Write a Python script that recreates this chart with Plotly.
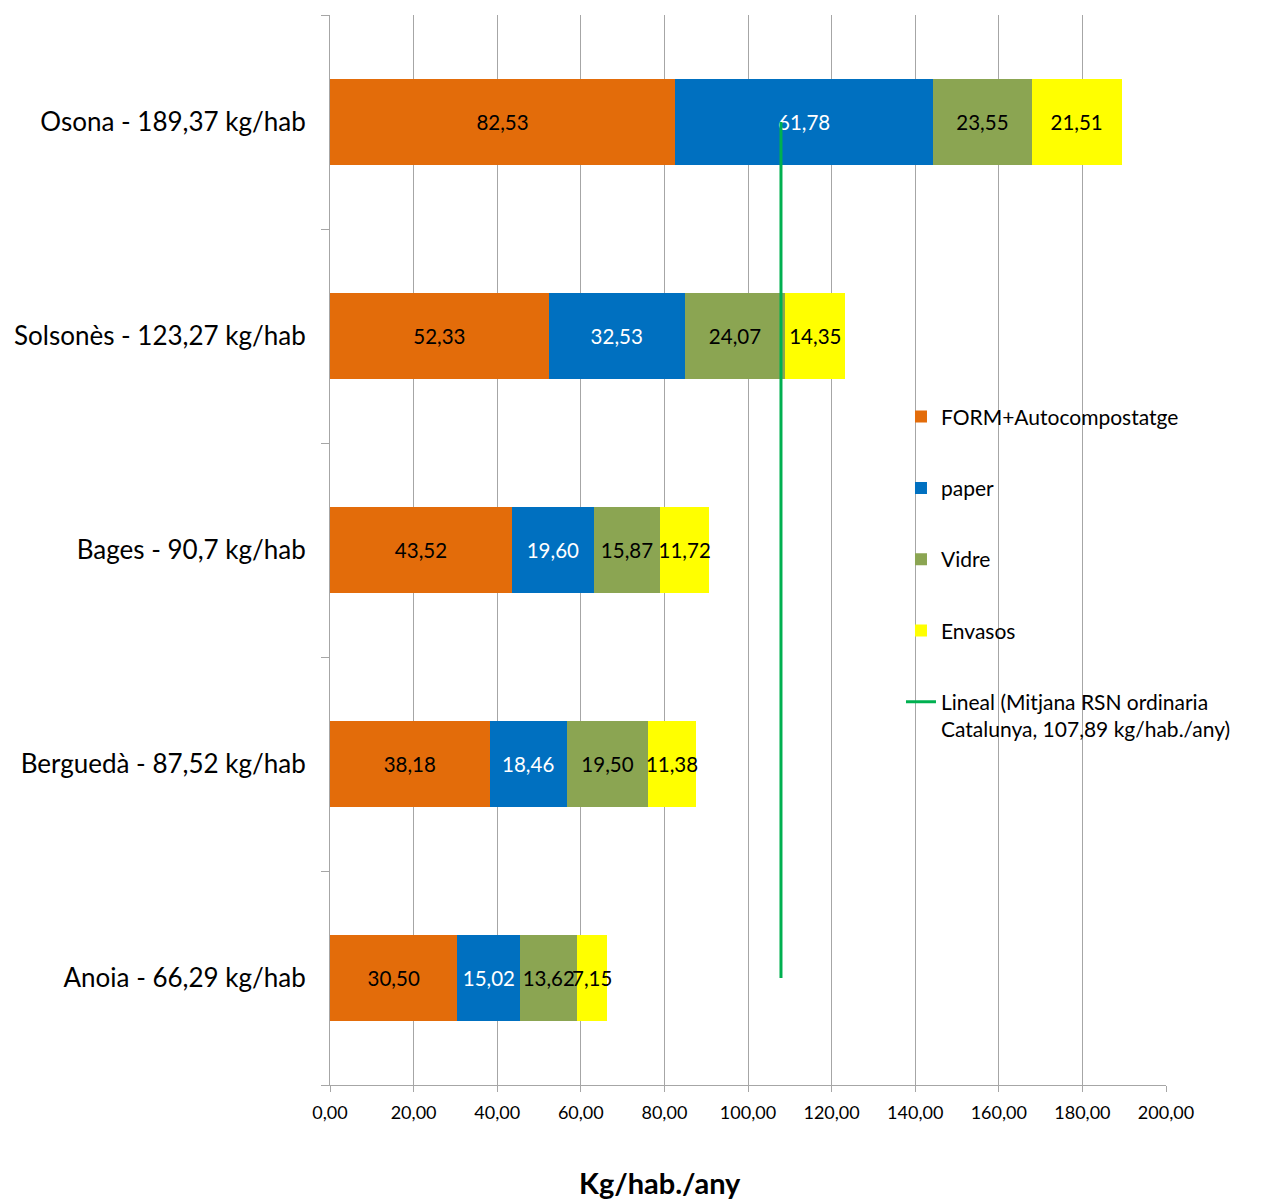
import plotly.graph_objects as go

categories = ["Anoia - 66,29 kg/hab", "Berguedà - 87,52 kg/hab", "Bages - 90,7 kg/hab",
              "Solsonès - 123,27 kg/hab", "Osona - 189,37 kg/hab"]
form = [30.50, 38.18, 43.52, 52.33, 82.53]
paper = [15.02, 18.46, 19.60, 32.53, 61.78]
vidre = [13.62, 19.50, 15.87, 24.07, 23.55]
envasos = [7.15, 11.38, 11.72, 14.35, 21.51]
mitjana = 107.89
series = [("FORM+Autocompostatge", form, "#E36C0A", "black"),
          ("paper", paper, "#0070C0", "white"),
          ("Vidre", vidre, "#8BA552", "black"),
          ("Envasos", envasos, "#FFFF00", "black")]

FONT = "Lato, Noto Sans, sans-serif"
fig = go.Figure()
for i, (name, vals, col, tcol) in enumerate(series):
    fig.add_trace(go.Bar(
        y=categories, x=vals, name=name, orientation="h",
        marker=dict(color=col, line=dict(width=0)),
        text=[f"{v:.2f}".replace(".", ",") for v in vals],
        textposition="inside", insidetextanchor="middle", constraintext="none",
        textangle=0,
        textfont=dict(color=tcol, size=20.5, family=FONT),
        legendgroup=f"g{i}",
    ))
fig.add_trace(go.Scatter(
    x=[mitjana, mitjana], y=[categories[-1], categories[0]], mode="lines",
    line=dict(color="#00B050", width=3),
    name="Lineal (Mitjana RSN ordinaria<br>Catalunya, 107,89 kg/hab./any)",
    legendgroup="g4",
))

# page body adds an 8px margin, so the figure is sized/offset to compensate
fig.update_layout(
    barmode="stack", bargap=0.6,
    width=1255, height=1192,
    paper_bgcolor="white", plot_bgcolor="white",
    margin=dict(l=322, r=97, t=7, b=115),
    separators=", ",
    font=dict(family=FONT, color="black"),
    uniformtext=dict(minsize=20.5, mode="show"),
    legend=dict(x=0.683, y=0.6435, xanchor="left", yanchor="top",
                font=dict(size=21, family=FONT, color="black"),
                tracegroupgap=41, valign="top", bgcolor="rgba(0,0,0,0)",
                traceorder="grouped"),
    showlegend=True,
    annotations=[dict(text="<b>Kg/hab./any</b>", xref="paper", yref="paper",
                      x=(660 - 330) / 836, y=-(1182 - 1085) / 1070,
                      xanchor="center", yanchor="middle", showarrow=False,
                      font=dict(size=29, family=FONT, color="black"))],
)
fig.update_xaxes(range=[0, 200], dtick=20, tick0=0, tickformat=".2f",
                 showgrid=True, gridcolor="#A6A6A6", gridwidth=1,
                 showline=True, linecolor="#A6A6A6", linewidth=1,
                 ticks="outside", ticklen=6, tickcolor="#A6A6A6",
                 tickfont=dict(size=18, family=FONT, color="black"),
                 ticklabelstandoff=5,
                 zeroline=False, automargin=False)
fig.update_yaxes(showline=True, linecolor="#A6A6A6", linewidth=1,
                 ticks="outside", ticklen=8, tickcolor="#A6A6A6", tickson="boundaries",
                 tickfont=dict(size=26, family=FONT, color="black"),
                 ticklabelstandoff=18, showgrid=False, automargin=False)

fig.write_html("out.html")
